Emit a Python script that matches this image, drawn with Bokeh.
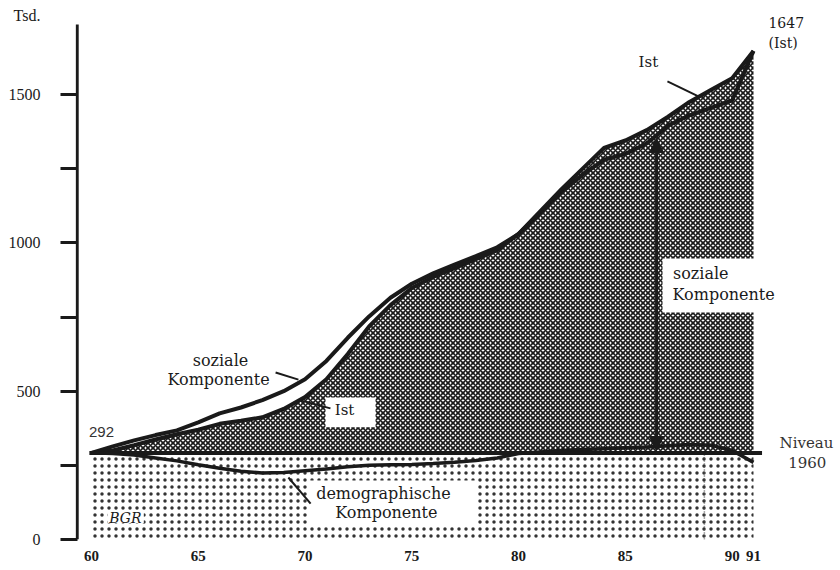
from bokeh.plotting import figure
from bokeh.models import Range1d, Label, Arrow, NormalHead, FixedTicker
from bokeh.embed import file_html
from bokeh.resources import INLINE

# ---------------- data ----------------
years = list(range(60, 92))
ist = [292, 300, 318, 337, 355, 370, 390, 400, 412, 440, 480, 540, 625, 718, 790, 848,
       885, 915, 945, 975, 1030, 1105, 1180, 1250, 1320, 1345, 1380, 1425, 1475, 1515,
       1555, 1647]
sozial = [292, 314, 334, 352, 368, 395, 425, 445, 470, 500, 540, 602, 680, 752, 815, 862,
          897, 927, 955, 985, 1030, 1100, 1170, 1230, 1280, 1300, 1335, 1395, 1430, 1455,
          1480, 1647]
demog = [292, 290, 285, 275, 265, 252, 240, 230, 224, 226, 232, 238, 245, 250, 252, 253,
         256, 260, 266, 275, 290, 295, 300, 303, 306, 309, 312, 316, 320, 318, 300, 260]
niveau_1960 = 292
ist_1991 = 1647
marker_year = 88.7

unit_label = "Tsd."
unit_label_pos = 1766
axis_top = 1736
y_minor_ticks = [0, 250, 500, 750, 1000, 1250, 1500]
y_label_ticks = [0, 500, 1000, 1500]
x_ticks = [60, 65, 70, 75, 80, 85, 90, 91]
x_tick_labels = {t: str(t) for t in x_ticks}

SERIF = "DejaVu Serif"
INK = "#1a1a1a"
X0 = 59.2508

p = figure(width=840, height=570, output_backend="svg", toolbar_location=None,
           x_range=Range1d(X0, 95.074), y_range=Range1d(0, 1816.9),
           min_border_left=75, min_border_right=0, min_border_top=0, min_border_bottom=31)
p.outline_line_color = None
p.grid.visible = False
p.background_fill_color = "white"
p.border_fill_color = "white"

# y axis: labels on major ticks (unit on top), tick marks as minor ticks
ya = p.yaxis[0]
ya.ticker = FixedTicker(ticks=y_label_ticks + [unit_label_pos], minor_ticks=y_minor_ticks)
ya.major_label_overrides = {**{t: str(t) for t in y_label_ticks}, unit_label_pos: unit_label}
ya.axis_line_color = None
ya.major_tick_line_color = None
ya.major_tick_out = 15
ya.major_tick_in = 0
ya.minor_tick_line_width = 3
ya.minor_tick_line_color = INK
ya.minor_tick_out = 15
ya.minor_tick_in = 2
ya.major_label_standoff = 20
ya.major_label_text_font = "Liberation Serif"
ya.major_label_text_font_size = "16px"
ya.major_label_text_color = INK

# y axis line drawn from 0 to the top of the scale
p.line(x=[X0 + 0.08, X0 + 0.08], y=[0, axis_top], line_color=INK, line_width=3)

# x axis (labels only)
xa = p.xaxis[0]
xa.ticker = FixedTicker(ticks=x_ticks)
xa.major_label_overrides = {k: v for k, v in x_tick_labels.items()}
xa.axis_line_color = None
xa.major_tick_line_color = None
xa.minor_tick_line_color = None
xa.major_label_standoff = 5
xa.major_label_text_font = "Liberation Serif"
xa.major_label_text_font_size = "15px"
xa.major_label_text_font_style = "bold"
xa.major_label_text_color = INK

# dotted area: below the 1960 level (BGR)
p.varea(x=[years[0], years[-1]], y1=[0, 0], y2=[niveau_1960, niveau_1960],
        fill_color="white", hatch_pattern="dot", hatch_scale=7, hatch_weight=0.9,
        hatch_color="#333")

# hatched area: between 1960 level and Ist
p.varea(x=years, y1=[niveau_1960] * len(years), y2=ist,
        fill_color="white", hatch_pattern="diagonal_cross", hatch_scale=5,
        hatch_weight=1.7, hatch_color="#1a1a1a")

# white label boxes
p.quad(left=[86.74], right=[91.2], bottom=[765], top=[947], fill_color="white", line_color=None)
p.quad(left=[70.96], right=[73.3], bottom=[378], top=[479], fill_color="white", line_color=None)
p.quad(left=[70.1], right=[78.0], bottom=[47], top=[199], fill_color="white", line_color=None)
p.quad(left=[60.75], right=[62.45], bottom=[55], top=[95], fill_color="white", line_color=None)

# vertical dotted marker
p.line(x=[marker_year, marker_year], y=[0, niveau_1960], line_color="#555",
       line_width=1.5, line_dash="1 2")

# lines
p.line(x=years, y=sozial, line_color=INK, line_width=4)
p.line(x=years, y=ist, line_color=INK, line_width=4)
p.line(x=[59.9, 91.4], y=[niveau_1960, niveau_1960], line_color=INK, line_width=4)
p.line(x=years, y=demog, line_color=INK, line_width=3.5)

# arrow of the social component
p.add_layout(Arrow(start=NormalHead(size=14, fill_color=INK, line_color=INK),
                   end=NormalHead(size=14, fill_color=INK, line_color=INK),
                   x_start=86.46, y_start=300, x_end=86.46, y_end=1352,
                   line_color=INK, line_width=3))

# leader lines
for xs, ys in [([86.97, 88.42], [1544, 1494]),
               ([68.62, 69.69], [563, 539]),
               ([69.79, 71.19], [469, 442]),
               ([69.22, 70.26], [209, 121])]:
    p.line(x=xs, y=ys, line_color=INK, line_width=2)


def lab(x, y, text, size="16px", align="center", font=SERIF, style="normal", color=INK):
    p.add_layout(Label(x=x, y=y, text=text, text_font=font, text_font_size=size,
                       text_align=align, text_baseline="middle", text_color=color,
                       text_font_style=style))


lab(91.70, 1743, str(ist_1991), size="14px", align="left")
lab(91.70, 1675, "(Ist)", size="14px", align="left")
lab(86.08, 1608, "Ist", size="15px")
lab(87.23, 897, "soziale", align="left")
lab(87.21, 826, "Komponente", align="left")
lab(66.04, 603, "soziale")
lab(65.95, 539, "Komponente")
lab(71.85, 438, "Ist", size="15px")
lab(60.47, 361, str(niveau_1960), size="15px", font="Liberation Sans", color="#333")
lab(73.67, 155, "demographische")
lab(73.81, 91, "Komponente")
lab(61.59, 74, "BGR", size="14px", style="italic")
lab(93.48, 324, "Niveau", size="15px", color="#333")
lab(93.52, 260, "1960", size="15px", color="#333")

open("out.html", "w").write(file_html(p, INLINE))
